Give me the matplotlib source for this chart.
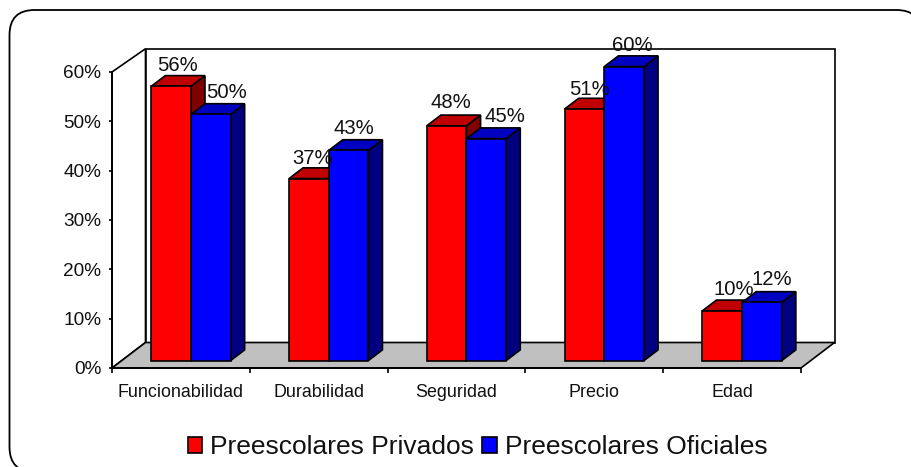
import numpy as np
import matplotlib
matplotlib.use("Agg")
import matplotlib.pyplot as plt
from matplotlib.patches import Polygon, FancyBboxPatch, Patch
from matplotlib.transforms import Affine2D

# ---- data ----
categories = ["Funcionabilidad", "Durabilidad", "Seguridad", "Precio", "Edad"]
privados = [55.6, 36.9, 47.6, 51.0, 10.1]
oficiales = [49.9, 42.6, 45.0, 59.6, 11.8]
series_names = ["Preescolares Privados", "Preescolares Oficiales"]
y_ticks = [0, 10, 20, 30, 40, 50, 60]

# ---- layout / style ----
W, H = 911, 467
plt.rcParams["font.family"] = ["Liberation Sans", "DejaVu Sans"]
RED = ("#FF0000", "#C00000", "#800000")
BLUE = ("#0000FF", "#0000C0", "#000080")
LW = 1.2

# depth projection: pixel shift of the full chart depth, in data units
PX_PER_CAT = 137.8
PX_PER_PCT = 296.0 / 60.0
DEPTH_X = 33.5 / PX_PER_CAT
DEPTH_Y = 25.5 / PX_PER_PCT
D_FRONT, D_BACK = 0.29, 0.71
BAR_W = 0.288
BAR_START = 0.214
WALL_TOP = 59.55
# label shift from the bar's front top centre, pixels
off_priv = [(6.7, 21), (4, 20), (4, 23), (5, 20), (12, 21)]
off_ofic = [(15.7, 22), (5, 22), (19, 22), (8, 21), (10, 23)]

fig = plt.figure(figsize=(W / 100, H / 100), dpi=100, facecolor="white")

# rounded frame, running past the right and bottom edges of the picture
frame_tf = Affine2D().scale(1, -1).translate(0, H)
frame = FancyBboxPatch((34.5, 35), 862, 412, boxstyle="round,pad=25,rounding_size=25",
                       transform=frame_tf, fc="white", ec="black", lw=1.3, clip_on=False,
                       zorder=-5)
fig.add_artist(frame)

ax = fig.add_axes([112 / W, (H - 368) / H, 689 / W, 296 / H])
ax.patch.set_visible(False)
ax.set_xlim(0, len(categories))
ax.set_ylim(0, 60)


def proj(x, y, d):
    return (x + d * DEPTH_X, y + d * DEPTH_Y)


def poly(points, fc, z):
    ax.add_patch(Polygon(points, closed=True, fc=fc, ec="black", lw=LW,
                         joinstyle="miter", clip_on=False, zorder=z))


n = len(categories)
# side wall, back wall, floor
poly([proj(0, 0, 0), proj(0, 60, 0), proj(0, WALL_TOP, 1), proj(0, 0, 1)], "white", 1)
poly([proj(0, 0, 1), proj(0, WALL_TOP, 1), proj(n, WALL_TOP, 1), proj(n, 0, 1)], "white", 1)
poly([proj(0, 0, 0), proj(n, 0, 0), proj(n, 0, 1), proj(0, 0, 1)], "#C0C0C0", 1)


def box(x0, value, cols, z):
    x1 = x0 + BAR_W
    poly([proj(x1, 0, D_FRONT), proj(x1, value, D_FRONT), proj(x1, value, D_BACK), proj(x1, 0, D_BACK)], cols[2], z)
    poly([proj(x0, value, D_FRONT), proj(x1, value, D_FRONT), proj(x1, value, D_BACK), proj(x0, value, D_BACK)], cols[1], z)
    poly([proj(x0, 0, D_FRONT), proj(x1, 0, D_FRONT), proj(x1, value, D_FRONT), proj(x0, value, D_FRONT)], cols[0], z)


def label(x0, value, shift):
    xc, yc = proj(x0 + BAR_W / 2, value, D_FRONT)
    ax.annotate(f"{value:.0f}%", xy=(xc, yc), xytext=shift, textcoords="offset pixels",
                ha="center", va="center", fontsize=14.6, color="#111111",
                annotation_clip=False, zorder=20)


for i in range(n):
    x_red = i + BAR_START
    x_blue = x_red + BAR_W
    box(x_red, privados[i], RED, 3 + 2 * i)
    box(x_blue, oficiales[i], BLUE, 4 + 2 * i)
    label(x_red, privados[i], off_priv[i])
    label(x_blue, oficiales[i], off_ofic[i])

# axes
for s in ("top", "right"):
    ax.spines[s].set_visible(False)
for s in ("left", "bottom"):
    ax.spines[s].set_linewidth(LW * 1.1)
    ax.spines[s].set_zorder(2)
ax.set_yticks(y_ticks)
ax.set_yticklabels([f"{v}%" for v in y_ticks], fontsize=13.7, color="#111111")
ax.tick_params(axis="y", length=2.5, width=LW, pad=5.2)
ax.set_xticks(np.arange(n + 1))
ax.set_xticklabels([""] * (n + 1))
ax.tick_params(axis="x", which="major", length=3.5, width=LW)
ax.set_xticks(np.arange(n) + 0.5, minor=True)
ax.set_xticklabels(categories, minor=True, fontsize=12.9, color="#111111")
ax.tick_params(axis="x", which="minor", length=0, pad=11.5)

fig.legend(handles=[Patch(fc=RED[0], ec="black", lw=LW), Patch(fc=BLUE[0], ec="black", lw=LW)],
           labels=series_names, loc="center", bbox_to_anchor=(477.5 / W, (H - 447) / H),
           ncol=2, frameon=False, fontsize=19, handlelength=0.56, handleheight=0.56,
           handletextpad=0.3, columnspacing=0.3, borderpad=0, labelcolor="#111111")

fig.savefig("out.png", dpi=100, facecolor="white")
